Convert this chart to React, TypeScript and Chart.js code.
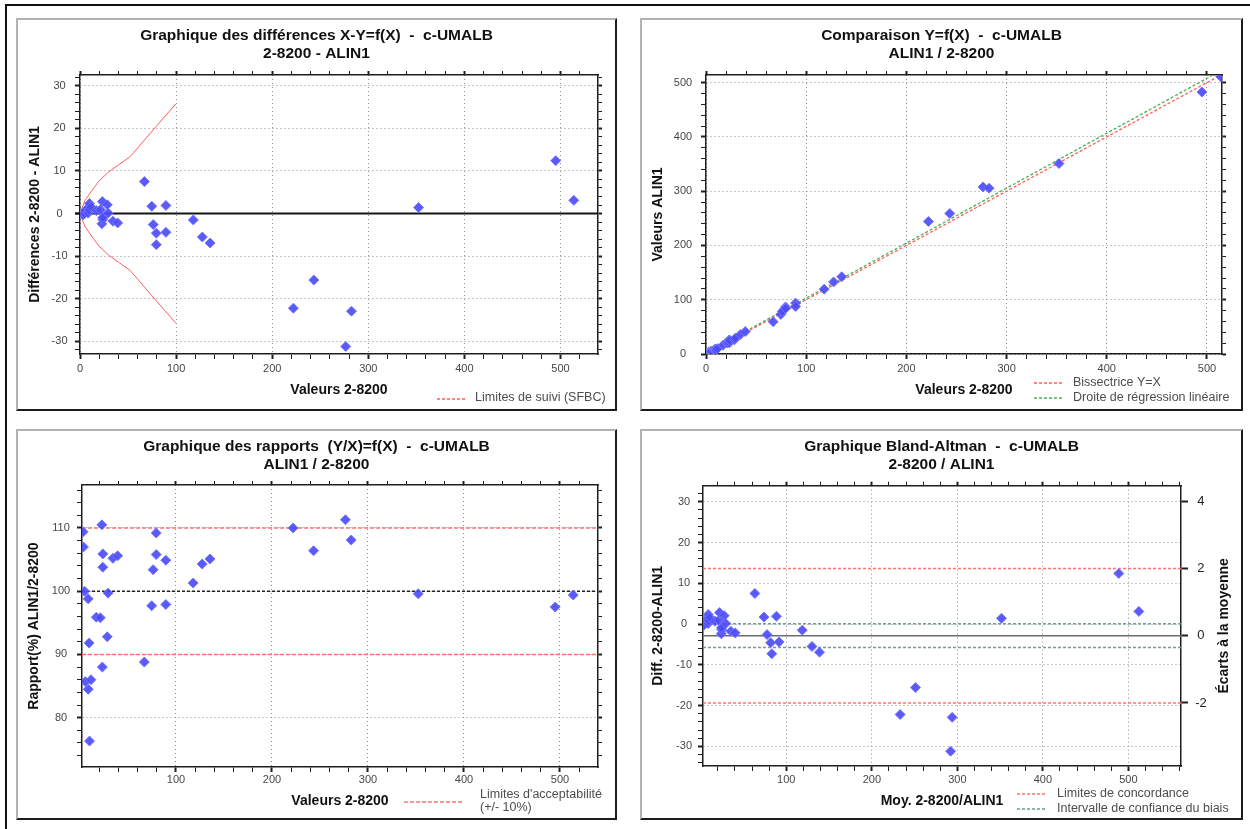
import React, { useEffect, useRef } from "react";
import { Chart, registerables } from "chart.js";

Chart.register(...registerables);
const FONT = '"Liberation Sans", Arial, Helvetica, sans-serif';
Chart.defaults.font.family = FONT;

// ---------------- data ----------------
// X : valeurs 2-8200
const valeurs2_8200 = [3.2, 3.6, 4.8, 5.6, 8.5, 8.6, 9.5, 9.9, 11.4, 17.0, 21.2, 22.8, 23.3, 23.8, 23.8, 28.4, 29.3, 34.3, 39.2, 67.0, 74.7, 76.2, 79.4, 79.4, 89.4, 89.4, 117.9, 127.3, 135.4, 222.0, 243.3, 276.5, 282.5, 352.3, 495.0, 513.8];
// Y : valeurs ALIN1
const valeursALIN1 = [3.5, 3.85, 4.8, 4.8, 8.4, 7.25, 8.7, 7.55, 9.8, 16.3, 20.3, 25.2, 20.5, 25.2, 24.7, 26.35, 29.2, 36.1, 41.4, 59.5, 73.0, 78.8, 86.7, 84.0, 93.8, 87.5, 119.4, 132.8, 142.3, 244.2, 258.9, 307.7, 305.4, 350.9, 482.6, 510.7];
// X - Y
const differences = [-0.3, -0.25, 0.0, 0.8, 0.1, 1.35, 0.8, 2.35, 1.6, 0.7, 0.9, -2.4, 2.8, -1.4, -0.9, 2.05, 0.1, -1.8, -2.2, 7.5, 1.7, -2.6, -7.3, -4.6, -4.4, 1.9, -1.5, -5.5, -6.9, -22.2, -15.6, -31.2, -22.9, 1.4, 12.4, 3.1];
// Y / X (%)
const rapports = [109.4, 107.0, 100.0, 85.7, 98.8, 84.5, 91.8, 76.3, 86.0, 95.9, 95.8, 110.5, 88.0, 105.9, 103.8, 92.8, 99.7, 105.2, 105.6, 88.8, 97.7, 103.4, 109.2, 105.8, 104.9, 97.9, 101.3, 104.3, 105.1, 110.0, 106.4, 111.3, 108.1, 99.6, 97.5, 99.4];
// (X + Y) / 2
const moyennes = [3.35, 3.7, 4.8, 5.2, 8.45, 7.9, 9.1, 8.7, 10.6, 16.65, 20.75, 24.0, 21.9, 24.5, 24.25, 27.4, 29.25, 35.2, 40.3, 63.25, 73.85, 77.5, 83.05, 81.7, 91.6, 88.45, 118.65, 130.05, 138.85, 233.1, 251.1, 292.1, 293.95, 351.6, 488.8, 512.25];

// Limites de suivi (SFBC)
const sfbcX = [0, 2, 5, 9, 15, 20, 30, 40, 52, 73, 100];
const sfbcHaute = [0, 1.2, 3.0, 4.3, 6.2, 7.7, 9.8, 11.4, 13.3, 18.8, 25.8];
const sfbcBasse = [0, -1.2, -3.0, -4.3, -6.2, -7.7, -9.8, -11.4, -13.3, -18.8, -25.8];

// Comparaison
const bissectriceX = [0, 515];
const bissectriceY = [0, 515];
const regressionX = [0, 505];
const regressionY = [1.8, 513];

// Rapports
const rapportReference = [100];
const rapportLimites = [90, 110];

// Bland-Altman
const blandMoyenne = [-2.86];
const blandLimites = [-19.36, 13.64];
const blandIC = [-5.76, 0.04];

// tick labels
const ticksValeurs = [0, 100, 200, 300, 400, 500];
const ticksDifferences = [-30, -20, -10, 0, 10, 20, 30];
const ticksALIN1 = [0, 100, 200, 300, 400, 500];
const ticksRapports = [80, 90, 100, 110];
const ticksEcarts = [-2, 0, 2, 4];

// ---------------- helpers ----------------
const GRID = "#8f8f8f";
const AXIS = "#1e1e1e";
const POINTS = {
  pointStyle: "rectRot",
  pointRadius: 5,
  pointHoverRadius: 5,
  backgroundColor: "rgba(76,76,246,0.92)",
  borderColor: "rgba(118,118,255,0.95)",
  borderWidth: 1,
  showLine: false,
  clip: 0,
};

function line(color: string, width: number, dash: number[]) {
  return { showLine: true, pointRadius: 0, pointHoverRadius: 0, borderColor: color, backgroundColor: color, borderWidth: width, borderDash: dash, fill: false, clip: 0 };
}

function pts(xs: number[], ys: number[]) {
  return xs.map((x, i) => ({ x, y: ys[i] }));
}

type AxisOpts = {
  position: "left" | "right" | "top" | "bottom";
  min: number;
  max: number;
  step: number;
  labels: number[];
  size: number;
  tl: number;
  pad?: number;
  show?: boolean;
  grid?: boolean;
  title?: string;
  titlePad?: any;
  crossAlign?: string;
  fontSize?: number;
  tickColor?: string;
};

function axis(o: AxisOpts): any {
  const horiz = o.position === "top" || o.position === "bottom";
  const isMajor = (c: any) => !!(c && c.tick && o.labels.includes(c.tick.value));
  return {
    type: "linear",
    axis: horiz ? "x" : "y",
    position: o.position,
    min: o.min,
    max: o.max,
    afterFit: (s: any) => {
      if (horiz) s.height = o.size;
      else s.width = o.size;
    },
    border: { display: true, color: AXIS, width: 1.5, dash: [1, 3] },
    grid: {
      display: true,
      drawOnChartArea: !!o.grid,
      drawTicks: true,
      tickLength: o.tl,
      lineWidth: 1,
      color: (c: any) => (isMajor(c) ? GRID : "rgba(0,0,0,0)"),
      tickColor: AXIS,
      tickWidth: (c: any) => (isMajor(c) ? 2 : 1),
    },
    ticks: {
      display: !!o.show,
      stepSize: o.step,
      autoSkip: false,
      maxRotation: 0,
      minRotation: 0,
      includeBounds: false,
      padding: o.pad ?? 3,
      color: o.tickColor ?? "#474747",
      font: { size: o.fontSize ?? 11 },
      crossAlign: o.crossAlign ?? "near",
      callback: (v: any) => (o.labels.includes(v) ? String(v) : ""),
    },
    title: o.title
      ? { display: true, text: o.title, color: "#111", font: { size: 14, weight: "bold" }, padding: o.titlePad }
      : { display: false },
  };
}

type LegendRow = { x1: number; x2: number; y: number; color: string; dash: number[]; width?: number; text: string[]; tx: number; ty: number };

function extras(rows: LegendRow[], rightTitle?: { text: string; x: number }) {
  return {
    id: "extras",
    afterDraw(chart: any) {
      const ctx = chart.ctx;
      ctx.save();
      rows.forEach((r) => {
        ctx.beginPath();
        ctx.setLineDash(r.dash);
        ctx.strokeStyle = r.color;
        ctx.lineWidth = r.width ?? 1.3;
        ctx.moveTo(r.x1, r.y);
        ctx.lineTo(r.x2, r.y);
        ctx.stroke();
        ctx.setLineDash([]);
        ctx.font = `12.5px ${FONT}`;
        ctx.fillStyle = "#4d4d4d";
        ctx.textAlign = "left";
        ctx.textBaseline = "middle";
        r.text.forEach((t, k) => ctx.fillText(t, r.tx, r.ty + k * 13));
      });
      if (rightTitle) {
        const ca = chart.chartArea;
        ctx.translate(rightTitle.x, (ca.top + ca.bottom) / 2);
        ctx.rotate(-Math.PI / 2);
        ctx.font = `bold 14px ${FONT}`;
        ctx.fillStyle = "#111";
        ctx.textAlign = "center";
        ctx.textBaseline = "middle";
        ctx.fillText(rightTitle.text, 0, 0);
      }
      ctx.restore();
    },
  };
}

function common(title: string[], pad: any, scales: any) {
  return {
    responsive: false,
    maintainAspectRatio: false,
    animation: false,
    devicePixelRatio: 1,
    events: [],
    layout: { padding: 0 },
    plugins: {
      legend: { display: false },
      tooltip: { enabled: false },
      title: {
        display: true,
        text: title,
        color: "#111",
        font: { size: 15.5, weight: "bold", lineHeight: "18px" },
        padding: pad,
      },
    },
    scales,
  };
}

// ---------------- panel configs ----------------
function configDifferences(): any {
  const xr = [0, 539];
  const yr = [-32.95, 32.5];
  return {
    type: "scatter",
    data: {
      datasets: [
        { label: "Différences", data: pts(valeurs2_8200, differences), ...POINTS },
        { label: "Zéro", data: pts([-5, xr[1]], [0, 0]), ...line("#141414", 2, []), clip: { left: 6, right: 0, top: 0, bottom: 0 } },
        { label: "Limites de suivi (SFBC)", data: pts(sfbcX, sfbcHaute), ...line("#ff5e5e", 1, []) },
        { label: "Limites de suivi (SFBC) bas", data: pts(sfbcX, sfbcBasse), ...line("#ff5e5e", 1, []) },
      ],
    },
    options: common(["Graphique des différences X-Y=f(X)  -  c-UMALB", "2-8200 - ALIN1"], { top: 9, bottom: 6 }, {
      x: axis({ position: "bottom", min: xr[0], max: xr[1], step: 20, labels: ticksValeurs, size: 57, tl: 5, pad: 3.4, show: true, grid: true, title: "Valeurs 2-8200", titlePad: { top: 0, bottom: 12.6 } }),
      y: axis({ position: "left", min: yr[0], max: yr[1], step: 2, labels: ticksDifferences, size: 64, tl: 5, pad: 7.5, show: true, grid: true, crossAlign: "center", title: "Différences 2-8200 - ALIN1", titlePad: { top: 10.8, bottom: 0 } }),
      x2: axis({ position: "top", min: xr[0], max: xr[1], step: 20, labels: ticksValeurs, size: 6, tl: 4 }),
      y2: axis({ position: "right", min: yr[0], max: yr[1], step: 2, labels: ticksDifferences, size: 19, tl: 4 }),
    }),
    plugins: [
      extras([{ x1: 421, x2: 450, y: 381, color: "#ff5e5e", dash: [3, 2], text: ["Limites de suivi (SFBC)"], tx: 459, ty: 380 }]),
    ],
  };
}

function configComparaison(): any {
  const xr = [0, 515];
  const yr = [0, 514];
  return {
    type: "scatter",
    data: {
      datasets: [
        { label: "Valeurs", data: pts(valeurs2_8200, valeursALIN1), ...POINTS },
        { label: "Bissectrice Y=X", data: pts(bissectriceX, bissectriceY), ...line("#ff5e5e", 1.3, [3, 2]) },
        { label: "Droite de régression linéaire", data: pts(regressionX, regressionY), ...line("#4caf50", 1.3, [3, 2]) },
      ],
    },
    options: common(["Comparaison Y=f(X)  -  c-UMALB", "ALIN1 / 2-8200"], { top: 9, bottom: 6 }, {
      x: axis({ position: "bottom", min: xr[0], max: xr[1], step: 20, labels: ticksValeurs, size: 57, tl: 5, pad: 3.4, show: true, grid: true, title: "Valeurs 2-8200", titlePad: { top: 0, bottom: 12.6 } }),
      y: axis({ position: "left", min: yr[0], max: yr[1], step: 20, labels: ticksALIN1, size: 66, tl: 5, pad: 8.8, show: true, grid: true, crossAlign: "center", title: "Valeurs ALIN1", titlePad: { top: 9.8, bottom: 0 } }),
      x2: axis({ position: "top", min: xr[0], max: xr[1], step: 20, labels: ticksValeurs, size: 6, tl: 4 }),
      y2: axis({ position: "right", min: yr[0], max: yr[1], step: 20, labels: ticksALIN1, size: 21, tl: 4 }),
    }),
    plugins: [
      extras([
        { x1: 394, x2: 423, y: 365, color: "#ff5e5e", dash: [3, 2], text: ["Bissectrice Y=X"], tx: 433, ty: 365 },
        { x1: 394, x2: 423, y: 380, color: "#4caf50", dash: [3, 2], text: ["Droite de régression linéaire"], tx: 433, ty: 380 },
      ]),
    ],
  };
}

function configRapports(): any {
  const xr = [2.1, 539.6];
  const yr = [72.2, 116.8];
  return {
    type: "scatter",
    data: {
      datasets: [
        { label: "Rapports", data: pts(valeurs2_8200, rapports), ...POINTS },
        { label: "Référence", data: pts(xr, [rapportReference[0], rapportReference[0]]), ...line("#222", 1.5, [3, 2]) },
        { label: "Limite basse", data: pts(xr, [rapportLimites[0], rapportLimites[0]]), ...line("#ff7373", 1.5, [4, 2]) },
        { label: "Limite haute", data: pts(xr, [rapportLimites[1], rapportLimites[1]]), ...line("#ff7373", 1.5, [4, 2]) },
      ],
    },
    options: common(["Graphique des rapports  (Y/X)=f(X)  -  c-UMALB", "ALIN1 / 2-8200"], { top: 8.7, bottom: 5.3 }, {
      x: axis({ position: "bottom", min: xr[0], max: xr[1], step: 20, labels: ticksValeurs, size: 53, tl: 5, pad: 1.4, show: true, grid: true, title: "Valeurs 2-8200", titlePad: { top: 0, bottom: 10.6 } }),
      y: axis({ position: "left", min: yr[0], max: yr[1], step: 2, labels: ticksRapports, size: 66, tl: 5, pad: 6.8, show: true, grid: true, crossAlign: "center", title: "Rapport(%) ALIN1/2-8200", titlePad: { top: 9.6, bottom: 0 } }),
      x2: axis({ position: "top", min: xr[0], max: xr[1], step: 20, labels: ticksValeurs, size: 6, tl: 4 }),
      y2: axis({ position: "right", min: yr[0], max: yr[1], step: 2, labels: ticksRapports, size: 19, tl: 4 }),
    }),
    plugins: [
      extras([{ x1: 388, x2: 448, y: 373, color: "#ff7373", dash: [4, 2], width: 1.5, text: ["Limites d'acceptabilité", "(+/- 10%)"], tx: 464, ty: 366 }]),
    ],
  };
}

function configBland(): any {
  const xr = [2.6, 561.5];
  const yr = [-34.83, 33.93];
  const er = [-3.875, 4.459];
  return {
    type: "scatter",
    data: {
      datasets: [
        { label: "Différences", data: pts(moyennes, differences), ...POINTS },
        { label: "Moyenne", data: pts(xr, [blandMoyenne[0], blandMoyenne[0]]), ...line("#6e6e6e", 1.5, []) },
        { label: "IC bas", data: pts(xr, [blandIC[0], blandIC[0]]), ...line("#6f9c98", 1.5, [3, 2]) },
        { label: "IC haut", data: pts(xr, [blandIC[1], blandIC[1]]), ...line("#6f9c98", 1.5, [3, 2]) },
        { label: "Limite basse", data: pts(xr, [blandLimites[0], blandLimites[0]]), ...line("#ff7373", 1.5, [3, 2]) },
        { label: "Limite haute", data: pts(xr, [blandLimites[1], blandLimites[1]]), ...line("#ff7373", 1.5, [3, 2]) },
      ],
    },
    options: common(["Graphique Bland-Altman  -  c-UMALB", "2-8200 / ALIN1"], { top: 8.7, bottom: 6 }, {
      x: axis({ position: "bottom", min: xr[0], max: xr[1], step: 20, labels: ticksValeurs, size: 54, tl: 5, pad: 2.4, show: true, grid: true, title: "Moy. 2-8200/ALIN1", titlePad: { top: 0, bottom: 10.6 } }),
      y: axis({ position: "left", min: yr[0], max: yr[1], step: 2, labels: ticksDifferences, size: 63, tl: 5, pad: 6, show: true, grid: true, crossAlign: "center", title: "Diff. 2-8200-ALIN1", titlePad: { top: 9.8, bottom: 0 } }),
      x2: axis({ position: "top", min: xr[0], max: xr[1], step: 20, labels: ticksValeurs, size: 6, tl: 4 }),
      y2: axis({ position: "right", min: er[0], max: er[1], step: 2, labels: ticksEcarts, size: 62, tl: 7, pad: 7.2, show: true, crossAlign: "center", fontSize: 13, tickColor: "#222" }),
    }),
    plugins: [
      extras(
        [
          { x1: 377, x2: 405, y: 365, color: "#ff7373", dash: [3, 2], text: ["Limites de concordance"], tx: 417, ty: 365 },
          { x1: 377, x2: 405, y: 380, color: "#6f9c98", dash: [3, 2], text: ["Intervalle de confiance du biais"], tx: 417, ty: 380 },
        ],
        { text: "Écarts à la moyenne", x: 584 }
      ),
    ],
  };
}

// ---------------- components ----------------
function Panel(props: { left: number; top: number; width: number; height: number; make: () => any }) {
  const { left, top, width, height, make } = props;
  const ref = useRef<HTMLCanvasElement | null>(null);
  useEffect(() => {
    const chart = new Chart(ref.current as HTMLCanvasElement, make());
    return () => chart.destroy();
  }, []);
  return (
    <div style={{ position: "absolute", left, top, width, height }}>
      <canvas ref={ref} width={width} height={height} style={{ position: "absolute", left: 0, top: 0, width, height }} />
      <div
        style={{
          position: "absolute",
          left: 0,
          top: 0,
          width,
          height,
          boxSizing: "border-box",
          borderTop: "2px solid #b2b2b2",
          borderLeft: "2px solid #b2b2b2",
          borderRight: "2px solid #1c1c1c",
          borderBottom: "2px solid #1c1c1c",
          pointerEvents: "none",
        }}
      />
    </div>
  );
}

export default function App() {
  return (
    <div style={{ position: "absolute", left: 0, top: 0, width: 1250, height: 829, background: "#fff", overflow: "hidden" }}>
      <div style={{ position: "absolute", left: 5, top: 4, width: 1245, height: 2, background: "#111" }} />
      <div style={{ position: "absolute", left: 5, top: 4, width: 2, height: 825, background: "#111" }} />
      <Panel left={16} top={18} width={601} height={393} make={configDifferences} />
      <Panel left={640} top={18} width={603} height={393} make={configComparaison} />
      <Panel left={16} top={429} width={601} height={391} make={configRapports} />
      <Panel left={640} top={429} width={603} height={391} make={configBland} />
    </div>
  );
}
